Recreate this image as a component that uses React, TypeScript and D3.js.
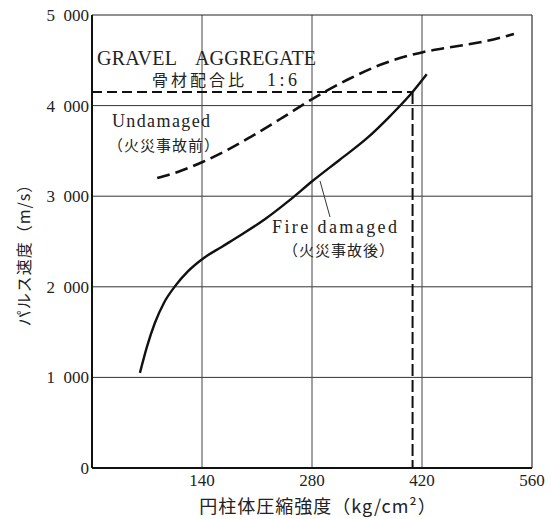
import React from "react";
import * as d3 from "d3";

const xTicks = [0, 140, 280, 420, 560];
const xTickLabels = ["", "140", "280", "420", "560"];
const yTicks = [0, 1000, 2000, 3000, 4000, 5000];
const yTickLabels = ["0", "1\u2002000", "2\u2002000", "3\u2002000", "4\u2002000", "5\u2002000"];

const undamagedX = [83, 110, 140, 170, 201, 243, 278, 325, 367, 421, 460, 497, 537];
const undamagedY = [3200, 3270, 3375, 3500, 3650, 3870, 4060, 4285, 4450, 4590, 4650, 4705, 4790];

const fireX = [61, 70, 80, 92, 106, 122, 141, 165, 190, 220, 250, 281, 315, 350, 380, 408, 426];
const fireY = [1050, 1340, 1600, 1830, 2010, 2170, 2310, 2440, 2575, 2745, 2945, 3170, 3400, 3640, 3890, 4150, 4345];

const refStrength = 408;
const refVelocity = 4150;

const W = 551, H = 519;
const left = 92, right = 532, top = 15, bottom = 468;

export default function App() {
  const x = d3.scaleLinear().domain([0, 560]).range([left, right]);
  const y = d3.scaleLinear().domain([0, 5000]).range([bottom, top]);
  const line = d3.line<[number, number]>().x(d => x(d[0])).y(d => y(d[1])).curve(d3.curveMonotoneX);
  const und = undamagedX.map((v, i) => [v, undamagedY[i]] as [number, number]);
  const fire = fireX.map((v, i) => [v, fireY[i]] as [number, number]);
  const font = "Liberation Serif, DejaVu Serif, serif";
  const cjk = "Noto Sans CJK JP, sans-serif";
  const serif = { fontFamily: font } as React.CSSProperties;
  const sans = { fontFamily: cjk } as React.CSSProperties;
  return (
    <svg width={W} height={H} style={{ position: "absolute", left: 0, top: 0, background: "#fff" }}>
      <rect width={W} height={H} fill="#fff" />
      {yTicks.filter(t => t > 0 && t < 5000).map(t => (
        <line key={"gy" + t} x1={left} x2={right} y1={y(t)} y2={y(t)} stroke="#333" strokeWidth={1} />
      ))}
      {xTicks.filter(t => t > 0 && t < 560).map(t => (
        <line key={"gx" + t} x1={x(t)} x2={x(t)} y1={top} y2={bottom} stroke="#444" strokeWidth={1} />
      ))}
      <line x1={left} x2={right} y1={top} y2={top} stroke="#222" strokeWidth={1.2} />
      <line x1={right} x2={right} y1={top} y2={bottom} stroke="#333" strokeWidth={1.2} />
      <line x1={left} x2={left} y1={top} y2={bottom} stroke="#111" strokeWidth={2} />
      <line x1={left} x2={right} y1={bottom} y2={bottom} stroke="#111" strokeWidth={2} />
      {yTicks.map((t, i) => (
        <text key={"yl" + t} x={left - 3} y={y(t) + 6} textAnchor="end" style={serif} fontSize={17} fill="#222">{yTickLabels[i]}</text>
      ))}
      {xTicks.map((t, i) => (
        <text key={"xl" + t} x={x(t)} y={486} textAnchor="middle" style={serif} fontSize={17} fill="#222">{xTickLabels[i]}</text>
      ))}
      <line x1={left} x2={x(refStrength)} y1={y(refVelocity)} y2={y(refVelocity)} stroke="#111" strokeWidth={1.8} strokeDasharray="10,5" />
      <line x1={x(refStrength)} x2={x(refStrength)} y1={y(refVelocity)} y2={bottom} stroke="#111" strokeWidth={2} strokeDasharray="12,4" />
      <path d={line(und) || ""} fill="none" stroke="#111" strokeWidth={2.6} strokeDasharray="13,6" />
      <path d={line(fire) || ""} fill="none" stroke="#111" strokeWidth={2.4} />
      <line x1={330} y1={217} x2={320} y2={181} stroke="#333" strokeWidth={1} />
      <text x={97} y={65} style={serif} fontSize={20} fill="#222" textLength={80} lengthAdjust="spacing">GRAVEL</text>
      <text x={195} y={65} style={serif} fontSize={20} fill="#222" textLength={121} lengthAdjust="spacing">AGGREGATE</text>
      <text x={152} y={86} style={sans} fontSize={16} fill="#222" letterSpacing={3}>骨材配合比</text>
      <text x={267} y={86} style={serif} fontSize={18} fill="#222" textLength={30} lengthAdjust="spacing">1:6</text>
      <text x={112} y={127} style={serif} fontSize={18} fill="#222" textLength={98} lengthAdjust="spacing">Undamaged</text>
      <text x={108} y={151} style={sans} fontSize={15} fill="#222" letterSpacing={1}>（火災事故前）</text>
      <text x={272} y={233} style={serif} fontSize={18} fill="#222" textLength={125} lengthAdjust="spacing">Fire damaged</text>
      <text x={283} y={256} style={sans} fontSize={15} fill="#222" letterSpacing={1}>（火災事故後）</text>
      <text transform="translate(30,251) rotate(-90)" textAnchor="middle" style={sans} fontSize={16} fill="#222" letterSpacing={1}>パルス速度（m/s）</text>
      <text x={318} y={513} textAnchor="middle" style={sans} fontSize={18} fill="#222" letterSpacing={1}>円柱体圧縮強度（kg/cm²）</text>
    </svg>
  );
}
